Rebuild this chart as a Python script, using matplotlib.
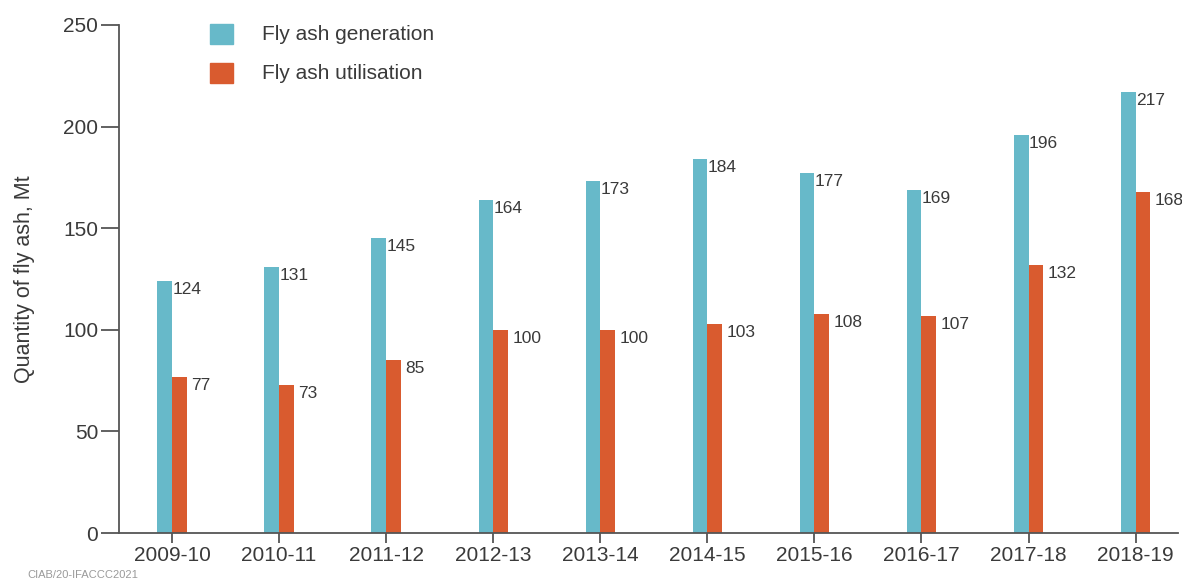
import matplotlib.pyplot as plt
import numpy as np

plt.rcParams['font.family'] = ['Liberation Sans', 'DejaVu Sans']

years = ["2009-10", "2010-11", "2011-12", "2012-13", "2013-14",
         "2014-15", "2015-16", "2016-17", "2017-18", "2018-19"]
generation = [124, 131, 145, 164, 173, 184, 177, 169, 196, 217]
utilisation = [77, 73, 85, 100, 100, 103, 108, 107, 132, 168]

blue = "#67b9c9"
orange = "#d95b2f"
txt = "#3a3a3a"
axc = "#555555"

fig = plt.figure(figsize=(11.82, 5.80), dpi=100)
ax = fig.add_axes([0.1007, 0.081, 0.8963, 0.876])

x = np.arange(len(years))
w = 0.137
ax.bar(x - w / 2, generation, w, color=blue)
ax.bar(x + w / 2, utilisation, w, color=orange)

# value labels next to each bar
for i in range(len(years)):
    ax.text(x[i] + 0.002, generation[i] - 0.5, str(generation[i]),
            ha="left", va="top", fontsize=12.5, color=txt)
    ax.text(x[i] + w + 0.04, utilisation[i] - 0.5, str(utilisation[i]),
            ha="left", va="top", fontsize=12.5, color=txt)

ax.set_xlim(-0.495, 9.4)
ax.set_ylim(0, 250)
ax.set_xticks(x)
ax.set_xticklabels(years)
ax.set_yticks([0, 50, 100, 150, 200, 250])

for s in ["top", "right"]:
    ax.spines[s].set_visible(False)
for s in ["left", "bottom"]:
    ax.spines[s].set_color(axc)
    ax.spines[s].set_linewidth(1.3)
ax.tick_params(axis="both", colors=axc, labelcolor=txt, labelsize=15,
               width=1.3)
ax.tick_params(axis="y", length=13, pad=2)
ax.tick_params(axis="x", length=7, pad=2)

ax.set_ylabel("Quantity of fly ash, Mt", fontsize=15.5, color=txt, labelpad=20)

# legend drawn as squares + text in axes-fraction coords
labels = ["Fly ash generation", "Fly ash utilisation"]
colors = [blue, orange]
ys = [0.982, 0.905]
for lab, c, yy in zip(labels, colors, ys):
    ax.add_patch(plt.Rectangle((0.086, yy - 0.019), 0.022, 0.039,
                               transform=ax.transAxes, color=c,
                               clip_on=False))
    ax.text(0.135, yy, lab, transform=ax.transAxes, fontsize=15,
            color=txt, va="center", ha="left")

fig.text(0.023, 0.017, "CIAB/20-IFACCC2021", fontsize=8, color="#9a9a9a",
         va="top")

fig.savefig("out.png", dpi=100)
